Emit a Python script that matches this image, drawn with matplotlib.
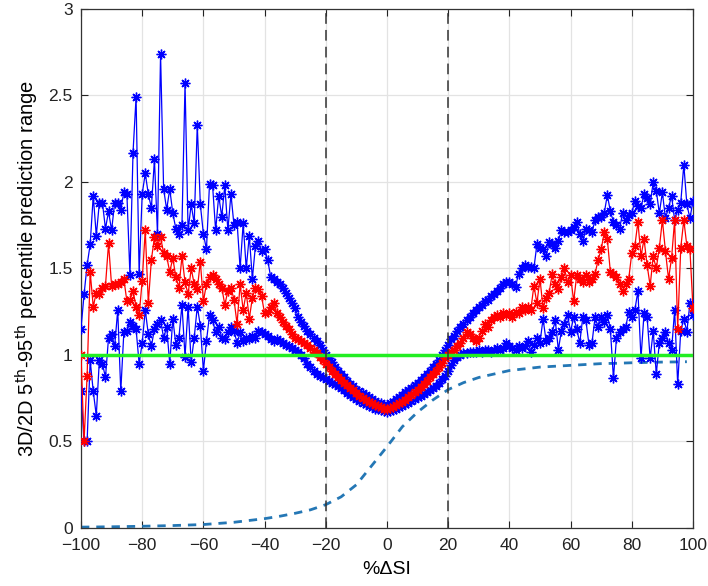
import numpy as np
import matplotlib
matplotlib.use("Agg")
import matplotlib.pyplot as plt

plt.rcParams['font.family'] = ['Liberation Sans', 'DejaVu Sans']

# === Data ===
x = np.arange(-100, 101)

upper = [
    1.15, 1.35, 1.52, 1.64, 1.92, 1.69, 1.88, 1.88, 1.73, 1.83,   # -100..-91
    1.72, 1.88, 1.88, 1.84, 1.94, 1.93, 1.46, 2.17, 2.49, 1.47,   # -90..-81
    1.93, 2.05, 1.93, 1.85, 2.13, 1.70, 2.74, 1.96, 1.84, 1.96,   # -80..-71
    1.82, 1.73, 1.70, 1.75, 2.57, 1.72, 1.87, 1.76, 2.33, 1.87,   # -70..-61
    1.70, 1.61, 1.99, 1.98, 1.72, 1.92, 1.80, 1.98, 1.72, 1.93,   # -60..-51
    1.75, 1.77, 1.50, 1.76, 1.50, 1.69, 1.44, 1.63, 1.66, 1.60,   # -50..-41
    1.61, 1.55, 1.45, 1.44, 1.42, 1.41, 1.39, 1.36, 1.33, 1.30,   # -40..-31
    1.27, 1.22, 1.19, 1.17, 1.14, 1.12, 1.10, 1.08, 1.06, 1.03,   # -30..-21
    1.00, 0.98, 0.96, 0.93, 0.91, 0.89, 0.87, 0.85, 0.83, 0.82,   # -20..-11
    0.80, 0.79, 0.78, 0.77, 0.76, 0.745, 0.735, 0.725, 0.72, 0.71,  # -10..-1
    0.71, 0.72, 0.73, 0.745, 0.755, 0.77, 0.785, 0.80, 0.81, 0.825,  # 0..9
    0.84, 0.855, 0.87, 0.89, 0.91, 0.93, 0.95, 0.97, 1.00, 1.03,   # 10..19
    1.06, 1.09, 1.11, 1.14, 1.16, 1.18, 1.20, 1.22, 1.24, 1.26,   # 20..29
    1.28, 1.29, 1.31, 1.32, 1.34, 1.35, 1.37, 1.39, 1.41, 1.42,   # 30..39
    1.42, 1.41, 1.395, 1.47, 1.50, 1.52, 1.51, 1.51, 1.50, 1.64,  # 40..49
    1.62, 1.61, 1.57, 1.655, 1.64, 1.62, 1.66, 1.72, 1.71, 1.71,  # 50..59
    1.72, 1.74, 1.77, 1.70, 1.656, 1.73, 1.72, 1.71, 1.78, 1.80,  # 60..69
    1.80, 1.82, 1.925, 1.83, 1.77, 1.75, 1.73, 1.82, 1.78, 1.81,  # 70..79
    1.82, 1.89, 1.86, 1.85, 1.93, 1.91, 1.87, 2.00, 1.95, 1.82,   # 80..89
    1.94, 1.79, 1.85, 1.92, 1.78, 1.84, 1.88, 2.10, 1.87, 1.79,   # 90..99
    1.89,                                                          # 100
]

middle = [
    1.00, 0.50, 0.88, 1.48, 1.28, 1.36, 1.35, 1.39, 1.40, 1.645,  # -100..-91
    1.40, 1.41, 1.41, 1.42, 1.44, 1.31, 1.32, 1.37, 1.28, 1.23,   # -90..-81
    1.43, 1.72, 1.30, 1.55, 1.68, 1.63, 1.68, 1.59, 1.57, 1.48,   # -80..-71
    1.56, 1.45, 1.39, 1.57, 1.42, 1.35, 1.50, 1.41, 1.38, 1.54,   # -70..-61
    1.31, 1.41, 1.45, 1.46, 1.44, 1.41, 1.39, 1.29, 1.37, 1.39,   # -60..-51
    1.32, 1.18, 1.41, 1.26, 1.36, 1.21, 1.33, 1.39, 1.38, 1.34,   # -50..-41
    1.24, 1.25, 1.28, 1.30, 1.24, 1.22, 1.19, 1.17, 1.15, 1.12,   # -40..-31
    1.10, 1.09, 1.08, 1.07, 1.06, 1.04, 1.03, 1.01, 0.99, 0.97,   # -30..-21
    0.95, 0.93, 0.91, 0.89, 0.87, 0.855, 0.84, 0.825, 0.81, 0.795,  # -20..-11
    0.78, 0.765, 0.75, 0.74, 0.73, 0.72, 0.71, 0.705, 0.70, 0.69,   # -10..-1
    0.69, 0.695, 0.70, 0.71, 0.72, 0.73, 0.74, 0.755, 0.77, 0.785,  # 0..9
    0.80, 0.815, 0.83, 0.85, 0.87, 0.89, 0.91, 0.93, 0.955, 0.98,   # 10..19
    1.00, 1.02, 1.03, 1.05, 1.07, 1.10, 1.13, 1.12, 1.10, 1.08,   # 20..29
    1.10, 1.14, 1.18, 1.16, 1.20, 1.22, 1.23, 1.22, 1.24, 1.23,   # 30..39
    1.24, 1.22, 1.25, 1.24, 1.28, 1.26, 1.28, 1.26, 1.40, 1.30,   # 40..49
    1.44, 1.27, 1.33, 1.36, 1.47, 1.41, 1.38, 1.45, 1.50, 1.42,   # 50..59
    1.46, 1.31, 1.46, 1.44, 1.42, 1.46, 1.42, 1.44, 1.47, 1.55,   # 60..69
    1.61, 1.71, 1.67, 1.48, 1.47, 1.45, 1.41, 1.37, 1.41, 1.44,   # 70..79
    1.59, 1.63, 1.77, 1.57, 1.67, 1.52, 1.40, 1.57, 1.50, 1.62,   # 80..89
    1.78, 1.60, 1.44, 1.56, 1.78, 1.15, 1.62, 1.78, 1.63, 1.61,   # 90..99
    1.27,                                                          # 100
]

lower = [
    0.79, 0.50, 0.50, 0.97, 0.79, 0.65, 0.97, 0.95, 0.87, 1.10,   # -100..-91
    1.12, 1.05, 1.26, 0.79, 1.13, 1.14, 1.19, 1.17, 1.15, 0.95,   # -90..-81
    1.07, 1.26, 1.12, 1.05, 1.15, 1.18, 1.20, 1.10, 1.16, 0.95,   # -80..-71
    1.21, 1.06, 1.10, 1.29, 0.99, 1.28, 0.96, 1.10, 1.28, 1.17,   # -70..-61
    0.91, 1.08, 1.23, 1.20, 1.13, 1.16, 1.10, 1.09, 1.13, 1.16,   # -60..-51
    1.14, 1.07, 1.13, 1.08, 1.10, 1.09, 1.11, 1.10, 1.14, 1.13,   # -50..-41
    1.12, 1.11, 1.09, 1.08, 1.09, 1.08, 1.07, 1.06, 1.05, 1.04,   # -40..-31
    1.03, 1.02, 1.00, 0.98, 0.95, 0.93, 0.91, 0.89, 0.88, 0.87,   # -30..-21
    0.86, 0.85, 0.84, 0.83, 0.82, 0.81, 0.795, 0.78, 0.77, 0.76,  # -20..-11
    0.745, 0.735, 0.725, 0.715, 0.705, 0.70, 0.69, 0.685, 0.68, 0.675,  # -10..-1
    0.67, 0.675, 0.68, 0.69, 0.70, 0.705, 0.715, 0.725, 0.735, 0.745,  # 0..9
    0.755, 0.765, 0.775, 0.785, 0.795, 0.81, 0.82, 0.84, 0.86, 0.88,   # 10..19
    0.91, 0.94, 0.97, 0.99, 1.00, 1.01, 1.01, 1.02, 1.02, 1.02,   # 20..29
    1.03, 1.02, 1.03, 1.03, 1.02, 1.03, 1.04, 1.03, 1.04, 1.07,   # 30..39
    1.05, 1.04, 1.03, 1.05, 1.04, 1.05, 1.08, 1.02, 1.06, 1.10,   # 40..49
    1.07, 1.21, 1.08, 1.10, 1.13, 1.20, 1.03, 1.14, 1.18, 1.23,   # 50..59
    1.135, 1.22, 1.15, 1.07, 1.22, 1.20, 1.06, 1.07, 1.22, 1.16,  # 60..69
    1.22, 1.19, 1.23, 1.15, 0.865, 1.10, 1.13, 1.15, 1.16, 1.25,  # 70..79
    1.22, 1.26, 1.37, 0.98, 1.24, 1.22, 0.98, 1.14, 0.89, 1.07,   # 80..89
    1.10, 1.13, 1.07, 1.03, 1.26, 0.83, 1.14, 1.21, 1.135, 1.30,  # 90..99
    1.23,                                                          # 100
]

# fitted curve (dashed), sampled along x
curve_x = [-100, -90, -80, -70, -60, -50, -40, -35, -30, -25, -20, -15, -10, -5, 0,
           5, 10, 15, 20, 25, 30, 35, 40, 45, 50, 55, 60, 65, 70, 75, 80, 85, 90, 95, 98]
curve_y = [0.005, 0.007, 0.010, 0.014, 0.020, 0.033, 0.054, 0.068, 0.085, 0.105, 0.135,
           0.18, 0.25, 0.36, 0.47, 0.585, 0.67, 0.74, 0.80, 0.84, 0.87, 0.89, 0.91, 0.92,
           0.93, 0.935, 0.94, 0.945, 0.95, 0.952, 0.955, 0.957, 0.959, 0.96, 0.961]

ref_level = 1.0
bounds = [-20, 20]

# === Plot ===
fig = plt.figure(figsize=(7.08, 5.86), dpi=100)
ax = fig.add_axes([0.1144, 0.099, 0.8644, 0.8857])

star = (8, 2, 0)  # MATLAB-like asterisk
ax.plot(curve_x, curve_y, '--', color='#2477b5', lw=2, dashes=(3, 2.5), zorder=2)
ax.plot(x, upper, '-', marker=star, color='#0000ff', lw=0.9, ms=7, mew=1.0, zorder=3)
ax.plot(x, lower, '-', marker=star, color='#0000ff', lw=0.9, ms=7, mew=1.0, zorder=3)
ax.plot(x, middle, '-', marker=star, color='#ff0000', lw=0.9, ms=7, mew=1.0, zorder=4)
ax.axhline(ref_level, color='#22ee22', lw=2.5, zorder=5)
for b in bounds:
    ax.axvline(b, color='#333333', lw=1.1, ls=(0, (7, 4)), zorder=6)

ax.set_xlim(-100, 100)
ax.set_ylim(0, 3)
ax.set_xticks(np.arange(-100, 101, 20))
ax.set_yticks([0, 0.5, 1, 1.5, 2, 2.5, 3])
ax.set_yticklabels(['0', '0.5', '1', '1.5', '2', '2.5', '3'])
ax.grid(True, color='#e3e3e3', lw=0.9)
ax.set_axisbelow(True)
ax.tick_params(direction='in', top=True, right=True, labelsize=12.5, length=5,
               width=0.8, colors='#222222')
ax.tick_params(axis='x', pad=7)
ax.tick_params(axis='y', pad=6)
for s in ax.spines.values():
    s.set_color('#333333')
    s.set_linewidth(0.9)

ax.set_xlabel('%\u0394SI', fontsize=14, labelpad=6)
ax.set_ylabel('3D/2D 5$^{\\mathrm{th}}$-95$^{\\mathrm{th}}$ percentile prediction range',
              fontsize=14.5, labelpad=5)

plt.savefig("out.png", dpi=100)
